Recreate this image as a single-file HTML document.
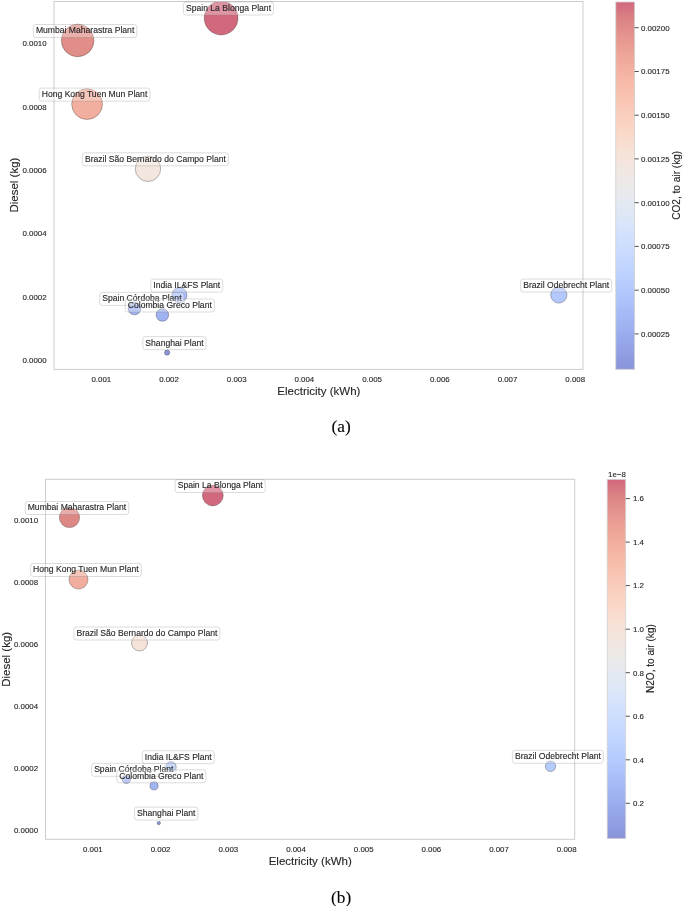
<!DOCTYPE html>
<html><head><meta charset="utf-8"><style>
html,body{margin:0;padding:0;background:#fff;}
body{width:685px;height:906px;overflow:hidden;}
svg{display:block;filter:blur(0.45px);font-family:"Liberation Sans", sans-serif;fill:#262626;}
text{stroke:#262626;stroke-width:0.12px;}
</style></head><body>
<svg width="685" height="906" viewBox="0 0 685 906" fill="#262626">
<rect width="685" height="906" fill="#fff"/>
<defs>
<linearGradient id="cw" x1="0" y1="0" x2="0" y2="1"><stop offset="0.00" stop-color="#d2687d"/><stop offset="0.05" stop-color="#dc8585"/><stop offset="0.10" stop-color="#e6978f"/><stop offset="0.15" stop-color="#eea799"/><stop offset="0.20" stop-color="#f5b5a4"/><stop offset="0.25" stop-color="#f8c1af"/><stop offset="0.30" stop-color="#facdbb"/><stop offset="0.35" stop-color="#fad7c7"/><stop offset="0.40" stop-color="#f7e0d4"/><stop offset="0.45" stop-color="#f2e6e0"/><stop offset="0.50" stop-color="#ebeaea"/><stop offset="0.55" stop-color="#e2e9f3"/><stop offset="0.60" stop-color="#d9e5f9"/><stop offset="0.65" stop-color="#cfdffd"/><stop offset="0.70" stop-color="#c5d8ff"/><stop offset="0.75" stop-color="#bbd0fe"/><stop offset="0.80" stop-color="#b0c5fb"/><stop offset="0.85" stop-color="#a5baf6"/><stop offset="0.90" stop-color="#9badee"/><stop offset="0.95" stop-color="#92a0e4"/><stop offset="1.00" stop-color="#8994d9"/></linearGradient>
</defs>
<g><text x="46.6" y="362.9" text-anchor="end" font-size="7.9">0.0000</text>
<text x="46.6" y="299.6" text-anchor="end" font-size="7.9">0.0002</text>
<text x="46.6" y="236.3" text-anchor="end" font-size="7.9">0.0004</text>
<text x="46.6" y="173.0" text-anchor="end" font-size="7.9">0.0006</text>
<text x="46.6" y="109.7" text-anchor="end" font-size="7.9">0.0008</text>
<text x="46.6" y="46.4" text-anchor="end" font-size="7.9">0.0010</text>
<text x="101.3" y="382.2" text-anchor="middle" font-size="7.9">0.001</text>
<text x="169.0" y="382.2" text-anchor="middle" font-size="7.9">0.002</text>
<text x="236.7" y="382.2" text-anchor="middle" font-size="7.9">0.003</text>
<text x="304.4" y="382.2" text-anchor="middle" font-size="7.9">0.004</text>
<text x="372.1" y="382.2" text-anchor="middle" font-size="7.9">0.005</text>
<text x="439.8" y="382.2" text-anchor="middle" font-size="7.9">0.006</text>
<text x="507.5" y="382.2" text-anchor="middle" font-size="7.9">0.007</text>
<text x="575.2" y="382.2" text-anchor="middle" font-size="7.9">0.008</text>
<text x="318.9" y="395.0" text-anchor="middle" font-size="11.5">Electricity (kWh)</text>
<text transform="translate(17.7,185.1) rotate(-90)" text-anchor="middle" font-size="11.5">Diesel (kg)</text>
<clipPath id="clipa"><rect x="54.0" y="1.5" width="529.0" height="367.9"/></clipPath>
<g clip-path="url(#clipa)">
<circle cx="221.10" cy="18.00" r="16.90" fill="#d2687d" stroke="rgba(40,40,40,0.55)" stroke-width="0.6"/>
<circle cx="77.65" cy="40.45" r="16.30" fill="#e18e89" stroke="rgba(40,40,40,0.55)" stroke-width="0.6"/>
<circle cx="87.10" cy="104.10" r="15.40" fill="#f2ae9e" stroke="rgba(40,40,40,0.55)" stroke-width="0.6"/>
<circle cx="148.00" cy="168.80" r="12.70" fill="#f2e6df" stroke="rgba(40,40,40,0.55)" stroke-width="0.6"/>
<circle cx="179.40" cy="295.10" r="7.60" fill="#acc1f9" stroke="rgba(40,40,40,0.55)" stroke-width="0.6"/>
<circle cx="134.50" cy="308.40" r="6.40" fill="#a0b3f2" stroke="rgba(40,40,40,0.55)" stroke-width="0.6"/>
<circle cx="162.40" cy="315.00" r="6.30" fill="#9fb2f1" stroke="rgba(40,40,40,0.55)" stroke-width="0.6"/>
<circle cx="167.10" cy="352.60" r="2.60" fill="#8994d9" stroke="rgba(40,40,40,0.55)" stroke-width="0.6"/>
<circle cx="558.80" cy="295.00" r="8.10" fill="#b3c8fc" stroke="rgba(40,40,40,0.55)" stroke-width="0.6"/>
</g>
<rect x="54.0" y="1.5" width="529.0" height="367.9" fill="none" stroke="#cccccc" stroke-width="1"/>
<rect x="183.4" y="2.0" width="90.1" height="13" rx="2.6" fill="rgba(255,255,255,0.3)" stroke="rgba(128,128,128,0.35)" stroke-width="0.8"/>
<text x="228.5" y="10.9" text-anchor="middle" font-size="8.6">Spain La Blonga Plant</text>
<rect x="33.3" y="24.5" width="103.5" height="13" rx="2.6" fill="rgba(255,255,255,0.3)" stroke="rgba(128,128,128,0.35)" stroke-width="0.8"/>
<text x="85.1" y="33.4" text-anchor="middle" font-size="8.6">Mumbai Maharastra Plant</text>
<rect x="39.2" y="88.1" width="110.7" height="13" rx="2.6" fill="rgba(255,255,255,0.3)" stroke="rgba(128,128,128,0.35)" stroke-width="0.8"/>
<text x="94.5" y="97.0" text-anchor="middle" font-size="8.6">Hong Kong Tuen Mun Plant</text>
<rect x="82.4" y="152.8" width="146.0" height="13" rx="2.6" fill="rgba(255,255,255,0.3)" stroke="rgba(128,128,128,0.35)" stroke-width="0.8"/>
<text x="155.4" y="161.7" text-anchor="middle" font-size="8.6">Brazil São Bernardo do Campo Plant</text>
<rect x="150.8" y="279.1" width="71.9" height="13" rx="2.6" fill="rgba(255,255,255,0.3)" stroke="rgba(128,128,128,0.35)" stroke-width="0.8"/>
<text x="186.8" y="288.0" text-anchor="middle" font-size="8.6">India IL&amp;FS Plant</text>
<rect x="99.7" y="292.4" width="84.4" height="13" rx="2.6" fill="rgba(255,255,255,0.3)" stroke="rgba(128,128,128,0.35)" stroke-width="0.8"/>
<text x="141.9" y="301.3" text-anchor="middle" font-size="8.6">Spain Córdoba Plant</text>
<rect x="125.2" y="299.0" width="89.1" height="13" rx="2.6" fill="rgba(255,255,255,0.3)" stroke="rgba(128,128,128,0.35)" stroke-width="0.8"/>
<text x="169.8" y="307.9" text-anchor="middle" font-size="8.6">Colombia Greco Plant</text>
<rect x="142.8" y="336.6" width="63.3" height="13" rx="2.6" fill="rgba(255,255,255,0.3)" stroke="rgba(128,128,128,0.35)" stroke-width="0.8"/>
<text x="174.5" y="345.5" text-anchor="middle" font-size="8.6">Shanghai Plant</text>
<rect x="520.7" y="279.0" width="91.0" height="13" rx="2.6" fill="rgba(255,255,255,0.3)" stroke="rgba(128,128,128,0.35)" stroke-width="0.8"/>
<text x="566.2" y="287.9" text-anchor="middle" font-size="8.6">Brazil Odebrecht Plant</text>
<rect x="615.8" y="2.0" width="18.8" height="367.3" fill="url(#cw)" stroke="#d0d0d0" stroke-width="0.8"/>
<line x1="634.6" x2="638.8000000000001" y1="333.9" y2="333.9" stroke="#262626" stroke-width="0.8"/>
<text x="641.0" y="336.7" font-size="7.9">0.00025</text>
<line x1="634.6" x2="638.8000000000001" y1="290.2" y2="290.2" stroke="#262626" stroke-width="0.8"/>
<text x="641.0" y="293.0" font-size="7.9">0.00050</text>
<line x1="634.6" x2="638.8000000000001" y1="246.4" y2="246.4" stroke="#262626" stroke-width="0.8"/>
<text x="641.0" y="249.2" font-size="7.9">0.00075</text>
<line x1="634.6" x2="638.8000000000001" y1="202.7" y2="202.7" stroke="#262626" stroke-width="0.8"/>
<text x="641.0" y="205.5" font-size="7.9">0.00100</text>
<line x1="634.6" x2="638.8000000000001" y1="158.9" y2="158.9" stroke="#262626" stroke-width="0.8"/>
<text x="641.0" y="161.7" font-size="7.9">0.00125</text>
<line x1="634.6" x2="638.8000000000001" y1="115.2" y2="115.2" stroke="#262626" stroke-width="0.8"/>
<text x="641.0" y="118.0" font-size="7.9">0.00150</text>
<line x1="634.6" x2="638.8000000000001" y1="71.5" y2="71.5" stroke="#262626" stroke-width="0.8"/>
<text x="641.0" y="74.3" font-size="7.9">0.00175</text>
<line x1="634.6" x2="638.8000000000001" y1="27.7" y2="27.7" stroke="#262626" stroke-width="0.8"/>
<text x="641.0" y="30.5" font-size="7.9">0.00200</text>
<text transform="translate(680.4,185.3) rotate(-90)" text-anchor="middle" font-size="10.1">CO2, to air (kg)</text>
<text x="341.1" y="431.7" text-anchor="middle" font-family='"Liberation Serif", serif' font-size="17.3" fill="#000">(a)</text></g>
<g><text x="38.1" y="832.9" text-anchor="end" font-size="7.9">0.0000</text>
<text x="38.1" y="770.9" text-anchor="end" font-size="7.9">0.0002</text>
<text x="38.1" y="709.0" text-anchor="end" font-size="7.9">0.0004</text>
<text x="38.1" y="647.0" text-anchor="end" font-size="7.9">0.0006</text>
<text x="38.1" y="585.1" text-anchor="end" font-size="7.9">0.0008</text>
<text x="38.1" y="523.1" text-anchor="end" font-size="7.9">0.0010</text>
<text x="92.9" y="852.1" text-anchor="middle" font-size="7.9">0.001</text>
<text x="160.6" y="852.1" text-anchor="middle" font-size="7.9">0.002</text>
<text x="228.3" y="852.1" text-anchor="middle" font-size="7.9">0.003</text>
<text x="296.0" y="852.1" text-anchor="middle" font-size="7.9">0.004</text>
<text x="363.7" y="852.1" text-anchor="middle" font-size="7.9">0.005</text>
<text x="431.4" y="852.1" text-anchor="middle" font-size="7.9">0.006</text>
<text x="499.0" y="852.1" text-anchor="middle" font-size="7.9">0.007</text>
<text x="566.7" y="852.1" text-anchor="middle" font-size="7.9">0.008</text>
<text x="310.2" y="864.5" text-anchor="middle" font-size="11.5">Electricity (kWh)</text>
<text transform="translate(9.5,659.3) rotate(-90)" text-anchor="middle" font-size="11.5">Diesel (kg)</text>
<clipPath id="clipb"><rect x="45.5" y="479.3" width="529.2" height="360.0"/></clipPath>
<g clip-path="url(#clipb)">
<circle cx="212.80" cy="495.50" r="10.40" fill="#d2687d" stroke="rgba(40,40,40,0.55)" stroke-width="0.6"/>
<circle cx="69.50" cy="517.50" r="10.10" fill="#de8886" stroke="rgba(40,40,40,0.55)" stroke-width="0.6"/>
<circle cx="78.50" cy="579.50" r="9.50" fill="#f1ad9d" stroke="rgba(40,40,40,0.55)" stroke-width="0.6"/>
<circle cx="139.50" cy="643.00" r="8.00" fill="#f5e2d8" stroke="rgba(40,40,40,0.55)" stroke-width="0.6"/>
<circle cx="170.90" cy="766.70" r="5.15" fill="#b5cafd" stroke="rgba(40,40,40,0.55)" stroke-width="0.6"/>
<circle cx="126.40" cy="779.30" r="4.10" fill="#a1b5f3" stroke="rgba(40,40,40,0.55)" stroke-width="0.6"/>
<circle cx="154.00" cy="785.80" r="4.10" fill="#a1b5f3" stroke="rgba(40,40,40,0.55)" stroke-width="0.6"/>
<circle cx="158.80" cy="823.10" r="1.70" fill="#8994d9" stroke="rgba(40,40,40,0.55)" stroke-width="0.6"/>
<circle cx="550.50" cy="766.30" r="5.20" fill="#b6cbfd" stroke="rgba(40,40,40,0.55)" stroke-width="0.6"/>
</g>
<rect x="45.5" y="479.3" width="529.2" height="360.0" fill="none" stroke="#cccccc" stroke-width="1"/>
<rect x="175.1" y="479.5" width="90.1" height="13" rx="2.6" fill="rgba(255,255,255,0.3)" stroke="rgba(128,128,128,0.35)" stroke-width="0.8"/>
<text x="220.2" y="488.4" text-anchor="middle" font-size="8.6">Spain La Blonga Plant</text>
<rect x="25.2" y="501.5" width="103.5" height="13" rx="2.6" fill="rgba(255,255,255,0.3)" stroke="rgba(128,128,128,0.35)" stroke-width="0.8"/>
<text x="76.9" y="510.4" text-anchor="middle" font-size="8.6">Mumbai Maharastra Plant</text>
<rect x="30.6" y="563.5" width="110.7" height="13" rx="2.6" fill="rgba(255,255,255,0.3)" stroke="rgba(128,128,128,0.35)" stroke-width="0.8"/>
<text x="85.9" y="572.4" text-anchor="middle" font-size="8.6">Hong Kong Tuen Mun Plant</text>
<rect x="73.9" y="627.0" width="146.0" height="13" rx="2.6" fill="rgba(255,255,255,0.3)" stroke="rgba(128,128,128,0.35)" stroke-width="0.8"/>
<text x="146.9" y="635.9" text-anchor="middle" font-size="8.6">Brazil São Bernardo do Campo Plant</text>
<rect x="142.3" y="750.7" width="71.9" height="13" rx="2.6" fill="rgba(255,255,255,0.3)" stroke="rgba(128,128,128,0.35)" stroke-width="0.8"/>
<text x="178.3" y="759.6" text-anchor="middle" font-size="8.6">India IL&amp;FS Plant</text>
<rect x="91.6" y="763.3" width="84.4" height="13" rx="2.6" fill="rgba(255,255,255,0.3)" stroke="rgba(128,128,128,0.35)" stroke-width="0.8"/>
<text x="133.8" y="772.2" text-anchor="middle" font-size="8.6">Spain Córdoba Plant</text>
<rect x="116.8" y="769.8" width="89.1" height="13" rx="2.6" fill="rgba(255,255,255,0.3)" stroke="rgba(128,128,128,0.35)" stroke-width="0.8"/>
<text x="161.4" y="778.7" text-anchor="middle" font-size="8.6">Colombia Greco Plant</text>
<rect x="134.5" y="807.1" width="63.3" height="13" rx="2.6" fill="rgba(255,255,255,0.3)" stroke="rgba(128,128,128,0.35)" stroke-width="0.8"/>
<text x="166.2" y="816.0" text-anchor="middle" font-size="8.6">Shanghai Plant</text>
<rect x="512.4" y="750.3" width="91.0" height="13" rx="2.6" fill="rgba(255,255,255,0.3)" stroke="rgba(128,128,128,0.35)" stroke-width="0.8"/>
<text x="557.9" y="759.2" text-anchor="middle" font-size="8.6">Brazil Odebrecht Plant</text>
<rect x="607.2" y="479.4" width="18.5" height="359.2" fill="url(#cw)" stroke="#d0d0d0" stroke-width="0.8"/>
<line x1="625.7" x2="629.9000000000001" y1="803.3" y2="803.3" stroke="#262626" stroke-width="0.8"/>
<text x="633.0" y="806.1" font-size="7.9">0.2</text>
<line x1="625.7" x2="629.9000000000001" y1="759.8" y2="759.8" stroke="#262626" stroke-width="0.8"/>
<text x="633.0" y="762.6" font-size="7.9">0.4</text>
<line x1="625.7" x2="629.9000000000001" y1="716.2" y2="716.2" stroke="#262626" stroke-width="0.8"/>
<text x="633.0" y="719.0" font-size="7.9">0.6</text>
<line x1="625.7" x2="629.9000000000001" y1="672.7" y2="672.7" stroke="#262626" stroke-width="0.8"/>
<text x="633.0" y="675.5" font-size="7.9">0.8</text>
<line x1="625.7" x2="629.9000000000001" y1="629.2" y2="629.2" stroke="#262626" stroke-width="0.8"/>
<text x="633.0" y="632.0" font-size="7.9">1.0</text>
<line x1="625.7" x2="629.9000000000001" y1="585.6" y2="585.6" stroke="#262626" stroke-width="0.8"/>
<text x="633.0" y="588.4" font-size="7.9">1.2</text>
<line x1="625.7" x2="629.9000000000001" y1="542.1" y2="542.1" stroke="#262626" stroke-width="0.8"/>
<text x="633.0" y="544.9" font-size="7.9">1.4</text>
<line x1="625.7" x2="629.9000000000001" y1="498.6" y2="498.6" stroke="#262626" stroke-width="0.8"/>
<text x="633.0" y="501.4" font-size="7.9">1.6</text>
<text transform="translate(653.9,658.6) rotate(-90)" text-anchor="middle" font-size="10.1">N2O, to air (kg)</text>
<text x="617.0" y="477.3" text-anchor="middle" font-size="7.9">1e−8</text>
<text x="341.2" y="902.7" text-anchor="middle" font-family='"Liberation Serif", serif' font-size="17.3" fill="#000">(b)</text></g>
</svg>
</body></html>
